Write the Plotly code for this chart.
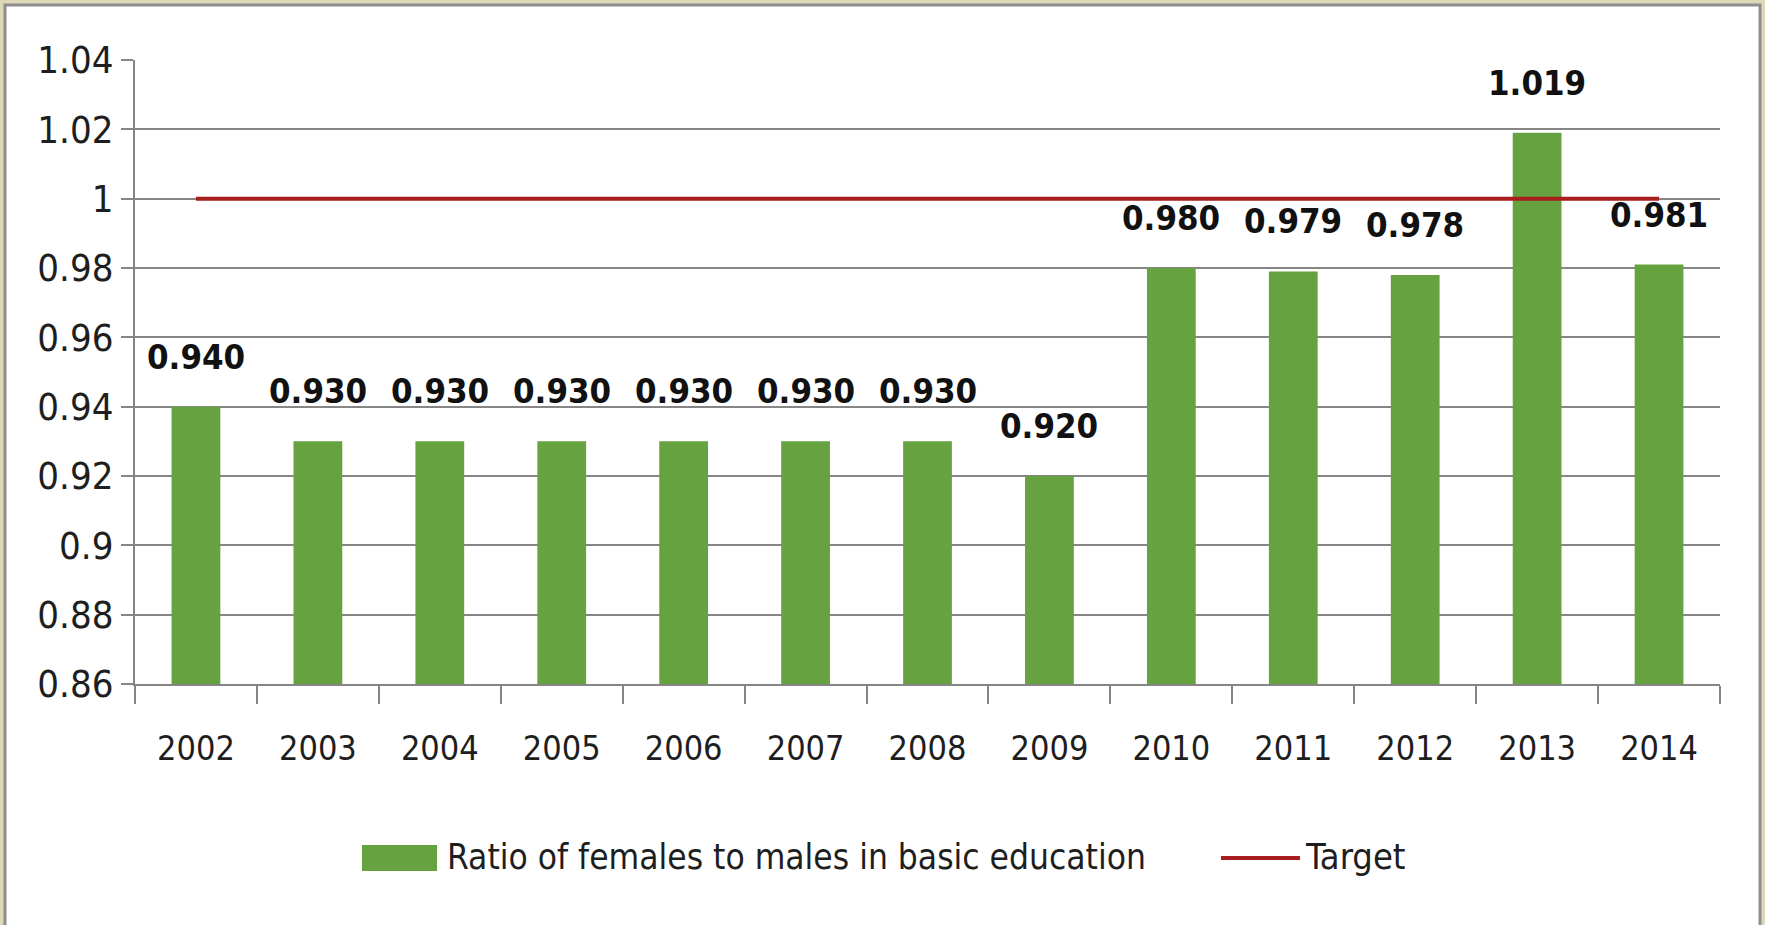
import plotly.graph_objects as go

years = ["2002", "2003", "2004", "2005", "2006", "2007", "2008", "2009", "2010", "2011", "2012", "2013", "2014"]
ratio = [0.940, 0.930, 0.930, 0.930, 0.930, 0.930, 0.930, 0.920, 0.980, 0.979, 0.978, 1.019, 0.981]
ratio_labels = ["0.940", "0.930", "0.930", "0.930", "0.930", "0.930", "0.930", "0.920", "0.980", "0.979", "0.978", "1.019", "0.981"]
target = [1.0, 1.0, 1.0, 1.0, 1.0, 1.0, 1.0, 1.0, 1.0, 1.0, 1.0, 1.0, 1.0]
ytick_vals = [0.86, 0.88, 0.90, 0.92, 0.94, 0.96, 0.98, 1.00, 1.02, 1.04]
ytick_text = ["0.86", "0.88", "0.9", "0.92", "0.94", "0.96", "0.98", "1", "1.02", "1.04"]
bar_name = "Ratio of females to males in basic education"
line_name = "Target"

W, H = 1765, 925
L, R, T, B = 135, 45, 60, 241
PW, PH = W - L - R, H - T - B
FONT = "DejaVu Sans Condensed, Liberation Sans Narrow, Liberation Sans, sans-serif"
GREEN = "#66A23F"
RED = "#A81E1E"
GRID = "#868686"
TXT = "#1E1E1E"

def px(x):
    return (x - L) / PW

def py(y):
    return 1 - (y - T) / PH

fig = go.Figure()
fig.add_trace(go.Bar(x=years, y=ratio, name=bar_name, marker=dict(color=GREEN, line=dict(width=0)),
                     width=0.4, showlegend=False))
fig.add_trace(go.Scatter(x=years, y=target, name=line_name, mode="lines",
                         line=dict(color=RED, width=4), showlegend=False))

for i, (v, s) in enumerate(zip(ratio, ratio_labels)):
    fig.add_annotation(x=i, y=v, xref="x", yref="y", text="<b>" + s + "</b>", showarrow=False,
                       yanchor="bottom", yshift=28, font=dict(family=FONT, size=34.5, color="#111111"))

shapes = [
    dict(type="rect", xref="paper", yref="paper", x0=px(5), x1=px(1760), y0=py(5), y1=py(940),
         fillcolor="white", line=dict(color="#8E8E8E", width=3), layer="below"),
    dict(type="rect", xref="paper", yref="paper", x0=px(362), x1=px(437), y0=py(845), y1=py(871),
         fillcolor=GREEN, line=dict(width=0)),
    dict(type="line", xref="paper", yref="paper", x0=px(1221), x1=px(1300), y0=py(858), y1=py(858),
         line=dict(color=RED, width=4)),
]
fig.add_annotation(xref="paper", yref="paper", x=px(445), y=py(857), xanchor="left", yanchor="middle",
                   text=bar_name, showarrow=False, font=dict(family=FONT, size=35, color=TXT))
fig.add_annotation(xref="paper", yref="paper", x=px(1303), y=py(857), xanchor="left", yanchor="middle",
                   text=line_name, showarrow=False, font=dict(family=FONT, size=36, color=TXT))

fig.update_layout(
    width=W, height=H, margin=dict(l=L, r=R, t=T, b=B, pad=0),
    paper_bgcolor="#DDD9B8", plot_bgcolor="white",
    shapes=shapes, bargap=0.6,
    font=dict(family=FONT, size=36, color=TXT),
)
fig.update_xaxes(type="category", categoryorder="array", categoryarray=years,
                 tickson="boundaries", ticks="outside", ticklen=18, tickwidth=2,
                 tickcolor=GRID, showline=True, linecolor=GRID, linewidth=2, tickangle=0,
                 ticklabelstandoff=33, showgrid=False, tickfont=dict(family=FONT, size=34, color=TXT))
fig.update_yaxes(range=[0.86, 1.04], tickvals=ytick_vals, ticktext=ytick_text, ticks="outside",
                 ticklen=12, tickwidth=2, tickcolor=GRID, showline=True, linecolor=GRID,
                 linewidth=2, showgrid=True, gridcolor=GRID, gridwidth=2, zeroline=False,
                 tickfont=dict(family=FONT, size=38, color=TXT))

fig.write_html("out.html", config={"displayModeBar": False}, post_script=(
    "document.body.style.margin='0px';document.body.style.padding='0px';"
    "document.body.style.overflow='hidden';document.body.style.background='#DDD9B8';"))
